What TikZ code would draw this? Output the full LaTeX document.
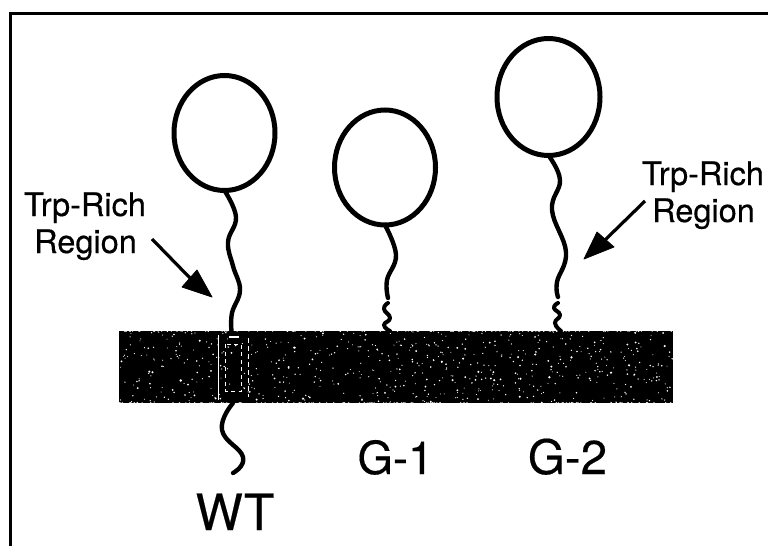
\documentclass[tikz,border=0pt]{standalone}
\usepackage{fontspec}
\setmainfont[FakeBold=0.35]{TeX Gyre Heros}
\usetikzlibrary{shapes.geometric}
\tikzset{
  head/.style={draw=black,line width=5pt,ellipse,inner sep=0pt,outer sep=0pt},
  tail/.style={line width=4.4pt,line cap=round,line join=round},
  coil/.style={line width=4pt,line cap=round,line join=round},
  pointer/.style={line width=3.2pt},
  barb/.style={fill=black,draw=black,line width=.8pt,line join=round},
  small/.style={font=\fontsize{32.5}{36}\selectfont,inner sep=0pt,anchor=base,align=center},
  speck/.style={white},
  gate/.style={white,line width=1pt}
}
\begin{document}
\begin{tikzpicture}[x=1pt,y=-1pt]
\useasboundingbox (0,0) rectangle (768,546);
% open frame: left and top sides only
\draw[line width=3pt] (10,546) -- (10,13) -- (768,13);

% membrane with white speckle
\fill[black] (119,331) rectangle (673,403);
\pgfmathsetseed{4217}
\foreach \i in {1,...,620}{
  \pgfmathsetmacro{\px}{119+554*rnd}
  \pgfmathsetmacro{\py}{331+72*rnd}
  \pgfmathsetmacro{\pr}{0.5+0.8*rnd*rnd}
  \fill[speck] (\px,\py) circle[radius=\pr];
}
% rough membrane edges
\foreach \i in {1,...,110}{
  \pgfmathsetmacro{\px}{119+554*rnd}
  \fill[speck] (\px,331) circle[radius=.8];
  \pgfmathsetmacro{\qx}{119+554*rnd}
  \fill[speck] (\qx,403) circle[radius=.8];
}
% outline of the transmembrane segment
\draw[gate] (218.5,335) -- (218.5,400);
\draw[gate,dash pattern=on 5pt off 3pt] (248.5,338) -- (248.5,397);
\draw[gate,dash pattern=on 4pt off 3.5pt] (225.5,344) rectangle (241,391);
\draw[white,line width=2pt] (229,337) -- (239,337);

% lipid heads
\node[head,minimum width=101pt,minimum height=115pt] (headwt) at (224.5,133) {};
\node[head,minimum width=101pt,minimum height=115pt] (headgone) at (385,167.5) {};
\node[head,minimum width=103pt,minimum height=117pt] (headgtwo) at (548.5,97) {};

% anchor points on the membrane
\coordinate (barwt) at (231.5,331);
\coordinate (bargone) at (390,331);
\coordinate (bargtwo) at (561,331);
\coordinate (wtin) at (233,403);
\coordinate (wtend) at (233,473);

% WT stalk and cytoplasmic tail
\draw[tail] plot[smooth,tension=.7] coordinates {(headwt.south) (236,217) (228,242) (233,266) (240,290) (232,313) (barwt)};
\draw[tail] plot[smooth,tension=.8] coordinates {(wtin) (222,430) (243,457) (wtend)};

% G-1 stalk and anchor coil
\draw[tail] plot[smooth,tension=.7] coordinates {(headgone.south) (396,255) (387,280) (388,298)};
\draw[coil] plot[smooth,tension=.9] coordinates {(388,303) (384,309) (390,318) (384,325) (bargone)};

% G-2 stalk and anchor coil
\draw[tail] plot[smooth,tension=.7] coordinates {(headgtwo.south) (560,180) (552,210) (566,252) (557,282) (558,297)};
\draw[coil] plot[smooth,tension=.9] coordinates {(558,303) (554,308) (560,315) (555,323) (bargtwo)};

% labels
\node[small] (trpl) at (85,216) {Trp-Rich};
\node[small] (regl) at (85.5,253) {Region};
\node[small] (trpr) at (703,185) {Trp-Rich};
\node[small] (regr) at (703.5,222) {Region};
\node[font=\fontsize{50}{54}\selectfont,inner sep=0pt,anchor=base] (wt) at (235,530) {WT};
\node[font=\fontsize{45.5}{54}\selectfont,inner sep=0pt,anchor=base] (gone) at (395.5,474) {G-1};
\node[font=\fontsize{47.5}{54}\selectfont,inner sep=0pt,anchor=base] (gtwo) at (567.5,474) {G-2};

% pointers to the Trp-rich region
\coordinate (tipl) at (212,297);
\coordinate (tipr) at (584,259);
\draw[pointer] (152,239) -- (190,278);
\fill[barb] (tipl) -- (182,287) -- (197,270) -- cycle;
\draw[pointer] (645,201) -- (605,240);
\fill[barb] (tipr) -- (597,232) -- (614,247) -- cycle;
\end{tikzpicture}
\end{document}
